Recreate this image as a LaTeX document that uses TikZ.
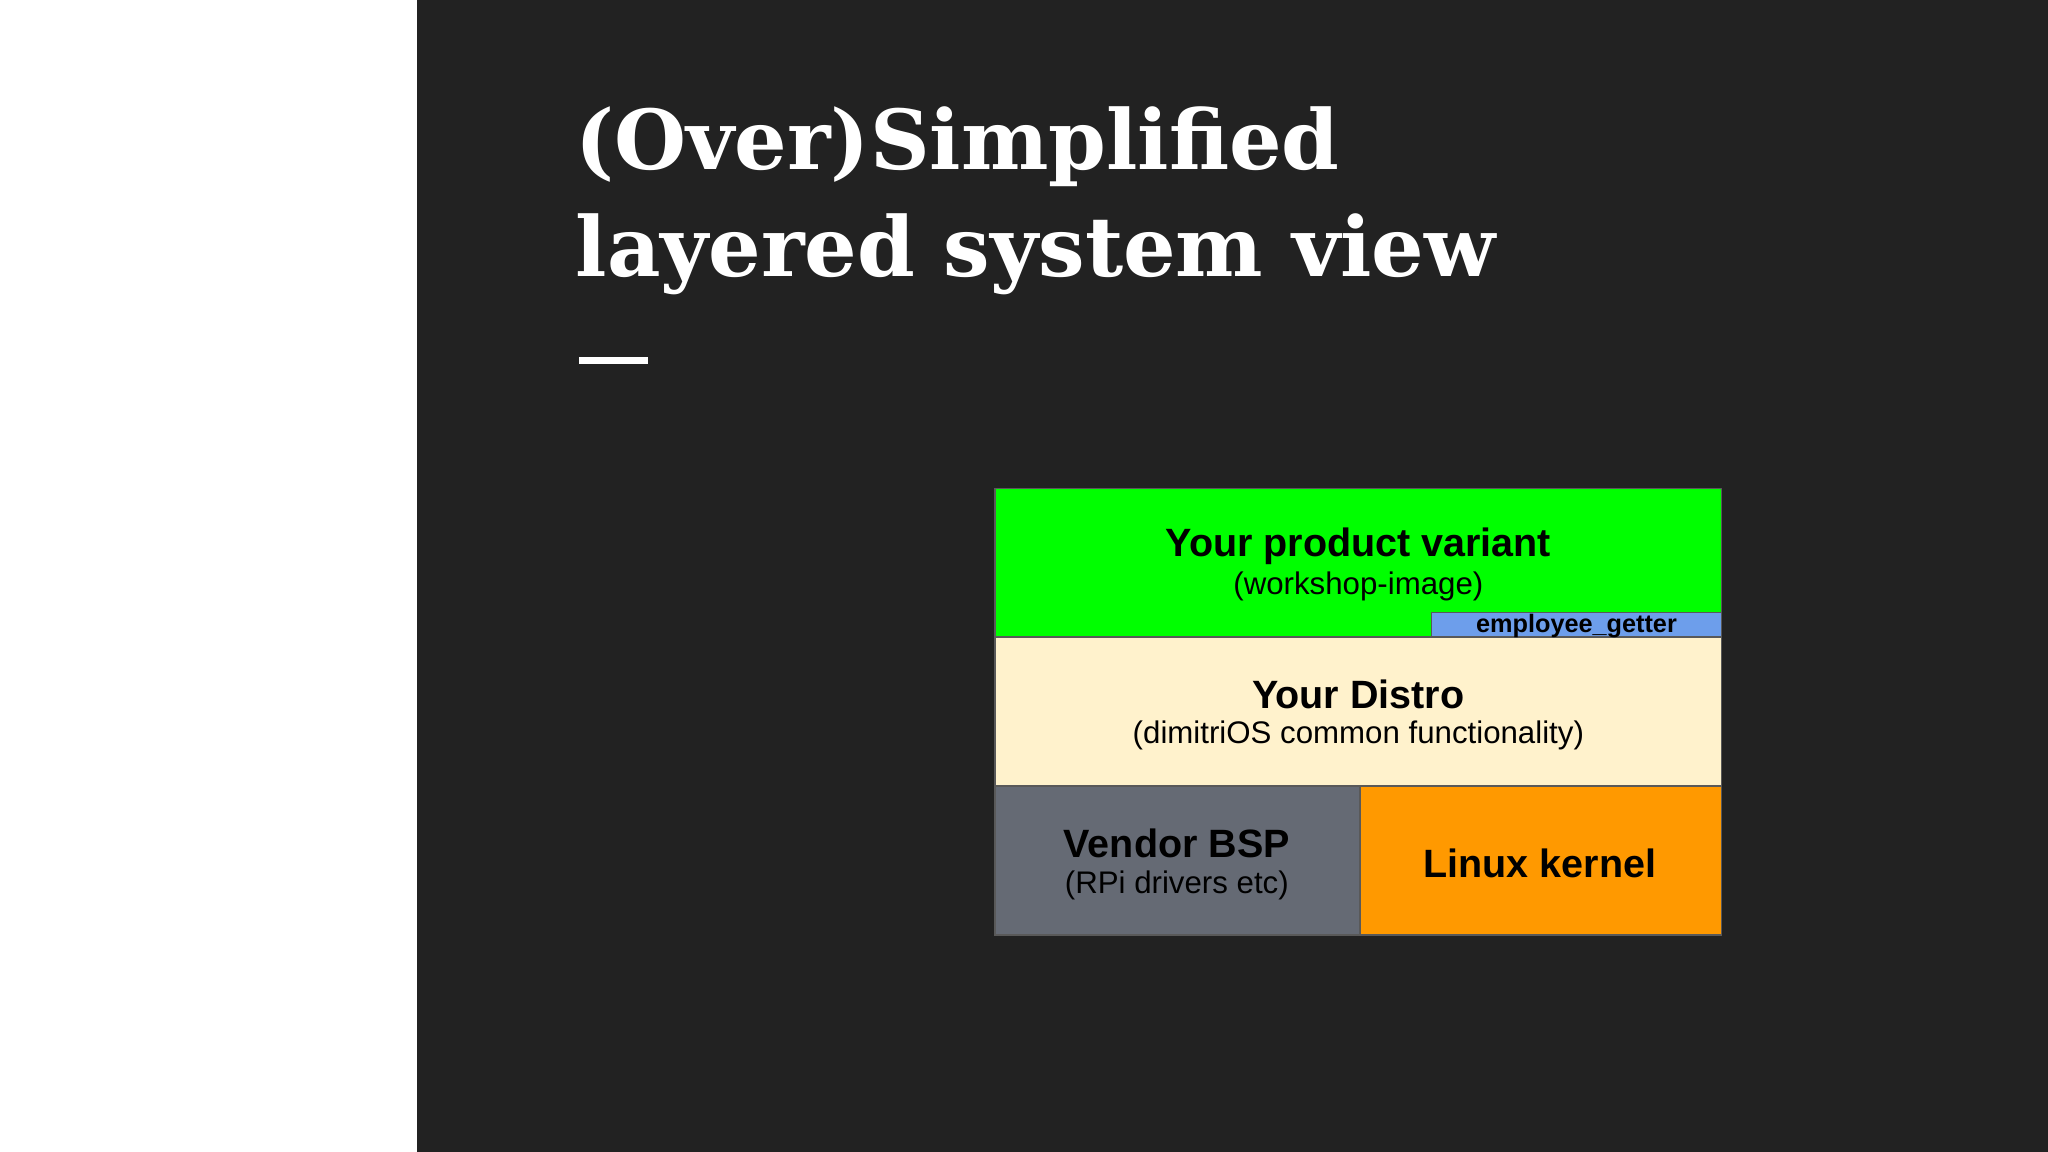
\documentclass[tikz,border=0pt]{standalone}
\usepackage{fontspec}
\setmainfont{Liberation Sans}
\newfontfamily\titlefont{DejaVu Serif}
\definecolor{bg}{HTML}{222222}
\definecolor{grn}{HTML}{00FF00}
\definecolor{crm}{HTML}{FFF2CC}
\definecolor{gry}{HTML}{656A74}
\definecolor{org}{HTML}{FF9900}
\definecolor{blu}{HTML}{6D9EEB}
\tikzset{layer/.style={draw=gray!70!black, line width=0.4pt},
 lbl/.style={align=center, text=black, inner sep=0pt},
 ttl/.style={anchor=base west, text=white, inner sep=0pt, font=\titlefont\bfseries\fontsize{18pt}{22pt}\selectfont},
 big/.style={lbl, font=\bfseries\fontsize{8.6pt}{10pt}\selectfont},
 small/.style={lbl, font=\fontsize{6.8pt}{8pt}\selectfont}}
\begin{document}
\begin{tikzpicture}[x=0.01cm,y=-0.01cm]
\useasboundingbox (0,0) rectangle (1568,882);
\fill[white] (0,0) rectangle (319,882);
\fill[bg] (319,0) rectangle (1568,882);
\node[ttl] (t1) at (440,130) {(Over)Simplified};
\node[ttl] (t2) at (440,212) {layered system view};
\fill[white] (443,273) rectangle (496,279);
\filldraw[layer, fill=grn] (762,374) rectangle (1318,488);
\filldraw[layer, fill=blu] (1096,469) rectangle (1318,488);
\filldraw[layer, fill=crm] (762,488) rectangle (1318,602);
\filldraw[layer, fill=gry] (762,602) rectangle (1041,716);
\filldraw[layer, fill=org] (1041,602) rectangle (1318,716);
\node[big] (pv) at (1040,418) {Your product variant};
\node[small] (pvs) at (1040,449) {(workshop-image)};
\node[lbl, font=\bfseries\fontsize{5.5pt}{6pt}\selectfont] (eg) at (1207,479) {employee\_getter};
\node[big] (yd) at (1040,532) {Your Distro};
\node[small] (yds) at (1040,563) {(dimitriOS common functionality)};
\node[big] (vb) at (901,646) {Vendor BSP};
\node[small] (vbs) at (901,678) {(RPi drivers etc)};
\node[big] (lk) at (1179,661) {Linux kernel};
\end{tikzpicture}
\end{document}
